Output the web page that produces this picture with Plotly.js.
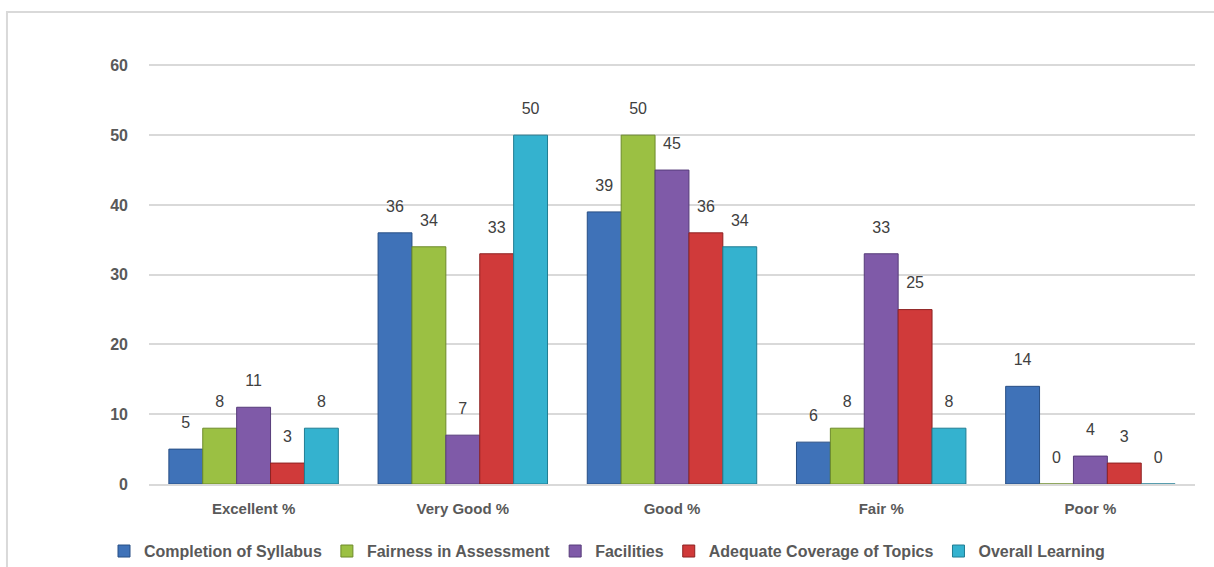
<!DOCTYPE html>
<html>
<head>
<meta charset="utf-8">
<script src="https://cdn.plot.ly/plotly-3.0.1.min.js"></script>
<style>html,body{margin:0;padding:0;background:#fff;}#chart{width:1214px;height:567px;}</style>
</head>
<body>
<div id="chart"></div>
<script>
var categories = ["Excellent %", "Very Good %", "Good %", "Fair %", "Poor %"];
var seriesNames = ["Completion of Syllabus", "Fairness in Assessment", "Facilities", "Adequate Coverage of Topics", "Overall Learning"];
var completion = [5, 36, 39, 6, 14];
var fairness = [8, 34, 50, 8, 0];
var facilities = [11, 7, 45, 33, 4];
var coverage = [3, 33, 36, 25, 3];
var overall = [8, 50, 34, 8, 0];
var yTicks = [0, 10, 20, 30, 40, 50, 60];

var seriesValues = [completion, fairness, facilities, coverage, overall];
var fills = ["#3f72b8", "#9bc043", "#7f5aa8", "#d03a3a", "#34b2cf"];
var edges = ["#284f85", "#6d8a2a", "#573c7a", "#8e2222", "#207d93"];

var traces = [];
seriesValues.forEach(function (vals, i) {
  traces.push({
    type: "bar",
    name: seriesNames[i],
    x: categories,
    y: vals,
    offsetgroup: "g" + i,
    marker: {color: fills[i], line: {color: edges[i], width: 1}},
    hoverinfo: "skip"
  });
});
seriesValues.forEach(function (vals, i) {
  traces.push({
    type: "scatter",
    mode: "markers+text",
    showlegend: false,
    x: categories,
    y: vals,
    offsetgroup: "g" + i,
    orientation: "v",
    text: vals.map(String),
    textposition: "top center",
    cliponaxis: false,
    textfont: {family: "Liberation Sans, Arial, sans-serif", size: 16, color: "#404040"},
    marker: {size: 26, color: "rgba(0,0,0,0)", opacity: 0},
    hoverinfo: "skip"
  });
});

var layout = {
  width: 1214,
  height: 567,
  margin: {l: 149, r: 19, t: 64, b: 83, autoexpand: false},
  paper_bgcolor: "#ffffff",
  plot_bgcolor: "#ffffff",
  barmode: "group",
  scattermode: "group",
  bargap: 0.19,
  scattergap: 0.19,
  bargroupgap: 0,
  showlegend: true,
  legend: {
    orientation: "h",
    x: 0.5,
    xref: "container",
    xanchor: "center",
    y: 0.028,
    yref: "container",
    yanchor: "middle",
    font: {family: "Liberation Sans, Arial, sans-serif", size: 16, color: "#595959", weight: "bold"},
    itemwidth: 30,
    tracegroupgap: 0
  },
  xaxis: {
    type: "category",
    showline: true,
    linecolor: "#d9d9d9",
    linewidth: 2,
    ticks: "",
    ticklabelstandoff: 10,
    tickfont: {family: "Liberation Sans, Arial, sans-serif", size: 15, color: "#595959", weight: "bold"}
  },
  yaxis: {
    range: [0, 60.2],
    tickvals: yTicks,
    ticktext: yTicks.map(String),
    showgrid: true,
    gridcolor: "#d9d9d9",
    gridwidth: 2,
    zeroline: false,
    showline: false,
    ticks: "",
    ticklabelstandoff: 20,
    tickfont: {family: "Liberation Sans, Arial, sans-serif", size: 16, color: "#595959", weight: "bold"}
  },
  shapes: [{
    type: "rect",
    xref: "paper",
    yref: "paper",
    x0: -0.1358, x1: 1.1,
    y0: -0.4, y1: 1.124,
    line: {color: "#d9d9d9", width: 2},
    fillcolor: "rgba(0,0,0,0)",
    layer: "below"
  }]
};

Plotly.newPlot("chart", traces, layout, {displayModeBar: false, staticPlot: true});
</script>
</body>
</html>
